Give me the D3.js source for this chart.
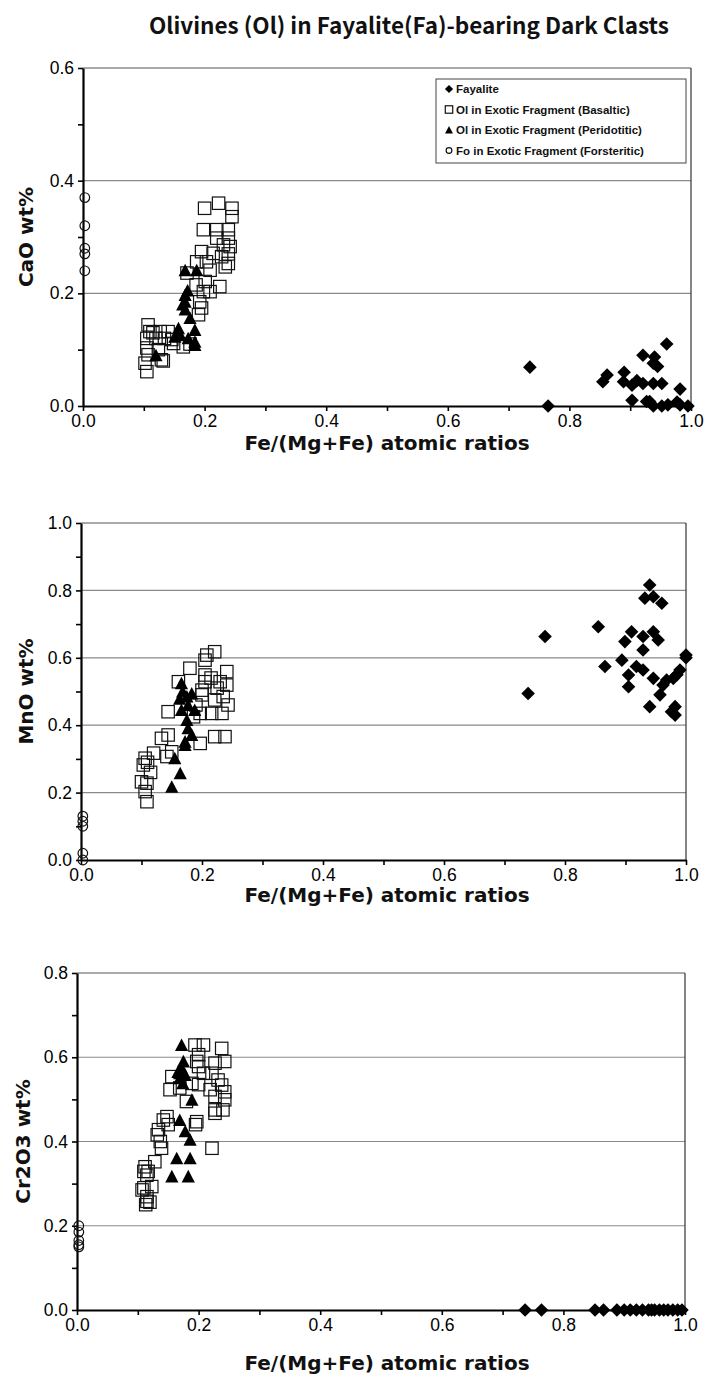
<!DOCTYPE html>
<html>
<head>
<meta charset="utf-8">
<script src="https://cdn.jsdelivr.net/npm/d3@7"></script>
<style>
  html, body { margin: 0; padding: 0; background: #fff; }
  svg { display: block; }
</style>
</head>
<body>
<svg id="chart" width="704" height="1378"></svg>
<script>
// ---------------- DATA ----------------
const chartTitle = "Olivines (Ol) in Fayalite(Fa)-bearing Dark Clasts";
const xAxisTitle = "Fe/(Mg+Fe) atomic ratios";
const seriesNames = ["Fayalite", "Ol in Exotic Fragment (Basaltic)", "Ol in Exotic Fragment (Peridotitic)", "Fo in Exotic  Fragment (Forsteritic)"];
const xTickValues = [0, 0.1, 0.2, 0.3, 0.4, 0.5, 0.6, 0.7, 0.8, 0.9, 1.0];
const xTickLabels = ["0.0", "", "0.2", "", "0.4", "", "0.6", "", "0.8", "", "1.0"];

// Panel 1: CaO wt%
const caoYTicks = [0, 0.1, 0.2, 0.3, 0.4, 0.5, 0.6];
const caoYLabels = ["0.0", "", "0.2", "", "0.4", "", "0.6"];
const caoFayalite = [[0.735,0.069],[0.765,0.0],[0.855,0.043],[0.862,0.055],[0.89,0.06],[0.889,0.043],[0.903,0.037],
  [0.903,0.01],[0.911,0.045],[0.921,0.09],[0.921,0.04],[0.938,0.076],[0.94,0.087],[0.96,0.11],[0.938,0.04],[0.952,0.04],
  [0.927,0.008],[0.932,0.008],[0.938,0.0],[0.952,0.0],[0.962,0.002],[0.982,0.03],[0.982,0.002],[0.995,0.0],[0.977,0.007],[0.945,0.07]];
const caoBasaltic = [[0.20,0.351],[0.223,0.36],[0.245,0.351],[0.245,0.336],[0.198,0.313],[0.22,0.313],[0.239,0.313],
  [0.22,0.298],[0.239,0.298],[0.231,0.286],[0.242,0.283],[0.195,0.274],[0.214,0.271],[0.239,0.27],[0.187,0.256],
  [0.203,0.256],[0.239,0.253],[0.234,0.247],[0.209,0.241],[0.171,0.236],[0.201,0.221],[0.225,0.212],[0.198,0.203],
  [0.209,0.203],[0.192,0.185],[0.195,0.174],[0.19,0.162],[0.107,0.144],[0.11,0.132],[0.127,0.132],[0.14,0.132],
  [0.105,0.12],[0.12,0.12],[0.134,0.12],[0.149,0.111],[0.105,0.103],[0.124,0.10],[0.107,0.091],[0.129,0.082],
  [0.102,0.076],[0.105,0.061],[0.165,0.105],[0.176,0.11],[0.132,0.08],[0.115,0.13],[0.146,0.118],[0.186,0.215],[0.228,0.265]];
const caoPeridotitic = [[0.168,0.241],[0.187,0.241],[0.168,0.197],[0.168,0.185],[0.168,0.171],[0.176,0.156],[0.157,0.138],
  [0.16,0.126],[0.151,0.123],[0.184,0.135],[0.184,0.114],[0.184,0.108],[0.173,0.12],[0.12,0.09],[0.172,0.205],[0.164,0.18]];
const caoForsteritic = [[0.003,0.37],[0.003,0.32],[0.003,0.28],[0.003,0.27],[0.003,0.24]];

// Panel 2: MnO wt%
const mnoYTicks = [0, 0.1, 0.2, 0.3, 0.4, 0.5, 0.6, 0.7, 0.8, 0.9, 1.0];
const mnoYLabels = ["0.0", "", "0.2", "", "0.4", "", "0.6", "", "0.8", "", "1.0"];
const mnoFayalite = [[0.94,0.816],[0.932,0.777],[0.946,0.781],[0.96,0.762],[0.855,0.692],[0.767,0.663],[0.91,0.677],
  [0.899,0.648],[0.929,0.663],[0.946,0.677],[0.954,0.653],[0.929,0.623],[1.0,0.608],[1.0,0.60],[0.894,0.593],
  [0.866,0.574],[0.918,0.574],[0.929,0.564],[0.905,0.549],[0.99,0.564],[0.946,0.539],[0.968,0.534],[0.979,0.539],
  [0.962,0.519],[0.905,0.514],[0.957,0.49],[0.739,0.494],[0.94,0.455],[0.982,0.455],[0.976,0.44],[0.982,0.43],[0.985,0.55]];
const mnoBasaltic = [[0.221,0.618],[0.208,0.608],[0.205,0.593],[0.18,0.569],[0.241,0.559],[0.161,0.529],[0.205,0.549],
  [0.205,0.529],[0.23,0.529],[0.241,0.519],[0.20,0.504],[0.20,0.49],[0.235,0.485],[0.221,0.475],[0.243,0.46],
  [0.144,0.44],[0.197,0.435],[0.216,0.435],[0.233,0.435],[0.186,0.425],[0.133,0.361],[0.144,0.371],[0.221,0.366],
  [0.238,0.366],[0.197,0.346],[0.12,0.317],[0.106,0.302],[0.15,0.321],[0.103,0.282],[0.11,0.29],[0.109,0.228],
  [0.10,0.232],[0.106,0.203],[0.109,0.173],[0.142,0.307],[0.215,0.54],[0.19,0.46],[0.115,0.26],[0.225,0.51]];
const mnoPeridotitic = [[0.166,0.524],[0.175,0.485],[0.163,0.478],[0.177,0.46],[0.166,0.445],[0.175,0.415],[0.177,0.391],
  [0.183,0.371],[0.172,0.351],[0.172,0.341],[0.155,0.302],[0.164,0.257],[0.15,0.217],[0.188,0.445],[0.183,0.494],[0.168,0.50]];
const mnoForsteritic = [[0.003,0.13],[0.003,0.115],[0.003,0.10],[0.003,0.02],[0.003,0.0]];

// Panel 3: Cr2O3 wt%
const crYTicks = [0, 0.1, 0.2, 0.3, 0.4, 0.5, 0.6, 0.7, 0.8];
const crYLabels = ["0.0", "", "0.2", "", "0.4", "", "0.6", "", "0.8"];
const crFayalite = [[0.737,0.0],[0.764,0.0],[0.852,0.0],[0.866,0.0],[0.888,0.0],[0.90,0.0],[0.91,0.0],[0.92,0.0],
  [0.93,0.0],[0.94,0.0],[0.945,0.0],[0.95,0.0],[0.958,0.0],[0.965,0.0],[0.972,0.0],[0.98,0.0],[0.988,0.0],[0.995,0.0]];
const crBasaltic = [[0.194,0.629],[0.208,0.629],[0.238,0.621],[0.20,0.606],[0.197,0.59],[0.20,0.578],[0.227,0.586],
  [0.243,0.59],[0.156,0.554],[0.208,0.562],[0.222,0.562],[0.232,0.546],[0.189,0.538],[0.153,0.523],[0.169,0.527],
  [0.20,0.535],[0.238,0.534],[0.219,0.523],[0.243,0.518],[0.227,0.507],[0.243,0.499],[0.18,0.495],[0.227,0.475],
  [0.24,0.475],[0.227,0.467],[0.148,0.459],[0.142,0.451],[0.15,0.44],[0.197,0.447],[0.195,0.44],[0.134,0.428],
  [0.132,0.416],[0.137,0.40],[0.139,0.384],[0.222,0.384],[0.128,0.352],[0.112,0.34],[0.117,0.329],[0.11,0.329],
  [0.115,0.32],[0.123,0.293],[0.11,0.29],[0.107,0.285],[0.115,0.269],[0.115,0.258],[0.12,0.256],[0.113,0.25]];
const crPeridotitic = [[0.172,0.629],[0.175,0.59],[0.172,0.574],[0.169,0.562],[0.178,0.558],[0.169,0.55],[0.174,0.538],
  [0.189,0.499],[0.169,0.451],[0.178,0.424],[0.186,0.404],[0.164,0.36],[0.186,0.36],[0.156,0.317],[0.183,0.317],[0.166,0.565]];
const crForsteritic = [[0.003,0.20],[0.003,0.185],[0.003,0.165],[0.003,0.155],[0.003,0.15]];

// ---------------- LAYOUT ----------------
const panels = [
  { yTitle: "CaO wt%", yDomain: [0, 0.6], yTicks: caoYTicks, yLabels: caoYLabels, grid: [0.2, 0.4],
    left: 83, right: 691, top: 68, bottom: 406, titleY: 450, yTitleX: 33,
    series: [caoFayalite, caoBasaltic, caoPeridotitic, caoForsteritic], legend: true },
  { yTitle: "MnO wt%", yDomain: [0, 1.0], yTicks: mnoYTicks, yLabels: mnoYLabels, grid: [0.2, 0.4, 0.6, 0.8],
    left: 81, right: 686, top: 523, bottom: 860, titleY: 902, yTitleX: 33,
    series: [mnoFayalite, mnoBasaltic, mnoPeridotitic, mnoForsteritic], legend: false },
  { yTitle: "Cr2O3 wt%", yDomain: [0, 0.8], yTicks: crYTicks, yLabels: crYLabels, grid: [0.2, 0.4, 0.6],
    left: 77, right: 685, top: 973, bottom: 1310, titleY: 1370, yTitleX: 30,
    series: [crFayalite, crBasaltic, crPeridotitic, crForsteritic], legend: false }
];

const svg = d3.select("#chart");

svg.append("text")
  .attr("x", 409).attr("y", 34)
  .attr("text-anchor", "middle")
  .attr("font-family", "'Noto Sans CJK JP', 'Noto Sans', sans-serif")
  .attr("font-weight", "bold")
  .attr("font-size", 22.5)
  .attr("fill", "#111")
  .text(chartTitle);

function drawMarker(g, type, cx, cy, scale) {
  const s = scale || 1;
  if (type === 0) { // diamond
    const r = 6.8 * s;
    g.append("path").attr("d", `M${cx},${cy - r}L${cx + r},${cy}L${cx},${cy + r}L${cx - r},${cy}Z`).attr("fill", "#000");
  } else if (type === 1) { // open square
    const h = 6.2 * s;
    g.append("rect").attr("x", cx - h).attr("y", cy - h).attr("width", 2 * h).attr("height", 2 * h)
      .attr("fill", "none").attr("stroke", "#111").attr("stroke-width", 1.2);
  } else if (type === 2) { // filled triangle
    const h = 6.6 * s;
    g.append("path").attr("d", `M${cx},${cy - h}L${cx + h},${cy + h * 0.9}L${cx - h},${cy + h * 0.9}Z`).attr("fill", "#000");
  } else { // open circle
    g.append("circle").attr("cx", cx).attr("cy", cy).attr("r", 4.8 * s)
      .attr("fill", "none").attr("stroke", "#111").attr("stroke-width", 1.2);
  }
}

panels.forEach(p => {
  const x = d3.scaleLinear().domain([0, 1]).range([p.left, p.right]);
  const y = d3.scaleLinear().domain(p.yDomain).range([p.bottom, p.top]);
  const g = svg.append("g");

  // gridlines
  g.selectAll("line.grid").data(p.grid).enter().append("line")
    .attr("x1", p.left).attr("x2", p.right)
    .attr("y1", d => y(d)).attr("y2", d => y(d))
    .attr("stroke", "#8a8a8a").attr("stroke-width", 1.2);

  // frame top & right
  g.append("line").attr("x1", p.left).attr("x2", p.right).attr("y1", p.top).attr("y2", p.top)
    .attr("stroke", "#555").attr("stroke-width", 1.2);
  g.append("line").attr("x1", p.right).attr("x2", p.right).attr("y1", p.top).attr("y2", p.bottom)
    .attr("stroke", "#333").attr("stroke-width", 1.2);

  // x axis
  const xAxis = d3.axisBottom(x).tickValues(xTickValues)
    .tickFormat((d, i) => xTickLabels[i]).tickSize(5).tickSizeOuter(0).tickPadding(4);
  const gx = g.append("g").attr("transform", `translate(0,${p.bottom})`).call(xAxis);
  gx.select(".domain").attr("stroke", "#000").attr("stroke-width", 2.2);
  gx.selectAll(".tick line").attr("stroke", "#000").attr("stroke-width", 1.6);
  gx.selectAll(".tick text").attr("font-family", "'Liberation Sans', Arial, sans-serif")
    .attr("font-size", 17.5).attr("fill", "#000");

  // y axis
  const yAxis = d3.axisLeft(y).tickValues(p.yTicks)
    .tickFormat((d, i) => p.yLabels[i]).tickSize(5).tickSizeOuter(0).tickPadding(4);
  const gy = g.append("g").attr("transform", `translate(${p.left},0)`).call(yAxis);
  gy.select(".domain").attr("stroke", "#000").attr("stroke-width", 2.2);
  gy.selectAll(".tick line").attr("stroke", "#000").attr("stroke-width", 1.6);
  gy.selectAll(".tick text").attr("font-family", "'Liberation Sans', Arial, sans-serif")
    .attr("font-size", 17.5).attr("fill", "#000");

  // axis titles
  g.append("text").attr("x", 387).attr("y", p.titleY).attr("text-anchor", "middle")
    .attr("font-family", "'DejaVu Sans', sans-serif").attr("font-weight", "bold")
    .attr("font-size", 20).attr("fill", "#111").text(xAxisTitle);
  g.append("text")
    .attr("transform", `translate(${p.yTitleX},${(p.top + p.bottom) / 2}) rotate(-90)`)
    .attr("text-anchor", "middle")
    .attr("font-family", "'DejaVu Sans', sans-serif").attr("font-weight", "bold")
    .attr("font-size", 20).attr("fill", "#111").text(p.yTitle);

  // points: squares, circles, triangles, diamonds
  const mg = g.append("g");
  [1, 3, 2, 0].forEach(si => {
    p.series[si].forEach(d => drawMarker(mg, si, x(d[0]), y(d[1])));
  });

  if (p.legend) {
    const lg = g.append("g");
    lg.append("rect").attr("x", 436).attr("y", 79).attr("width", 250).attr("height", 84)
      .attr("fill", "#fff").attr("stroke", "#444").attr("stroke-width", 1);
    seriesNames.forEach((name, i) => {
      const cy = 89 + i * 20.5;
      drawMarker(lg, i, 449, cy, 0.6);
      lg.append("text").attr("x", 456).attr("y", cy + 4)
        .attr("font-family", "'Liberation Sans', Arial, sans-serif")
        .attr("font-size", 11.5).attr("font-weight", "bold").attr("fill", "#111").text(name);
    });
  }
});
</script>
</body>
</html>
